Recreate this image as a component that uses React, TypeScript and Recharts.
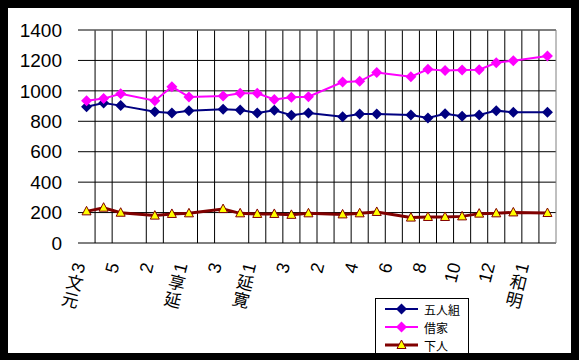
import { LineChart, Line, XAxis, YAxis, CartesianGrid, ReferenceLine, Legend } from 'recharts'

// 28 years, 元文3 (1738) .. 明和2 (1765)
const years = [
  '元文3', '元文4', '元文5', '寛保1', '寛保2', '寛保3', '延享1', '延享2', '延享3', '延享4',
  '寛延1', '寛延2', '寛延3', '宝暦1', '宝暦2', '宝暦3', '宝暦4', '宝暦5', '宝暦6', '宝暦7',
  '宝暦8', '宝暦9', '宝暦10', '宝暦11', '宝暦12', '宝暦13', '明和1', '明和2',
]
// shown under every second year
const tickLabels = ['元文3', '5', '2', '延享1', '3', '寛延1', '3', '2', '4', '6', '8', '10', '12', '明和1']

const gonin = [895, 920, 903, null, 863, 855, 870, null, 879, 874, 855, 872, 840, 854, null, 830, 848, 848, null, 841, 822, 850, 833, 841, 870, 859, null, 859]
const shakuya = [935, 949, 981, null, 935, 1027, 960, null, 966, 984, 984, 944, 958, 962, null, 1058, 1063, 1120, null, 1093, 1142, 1133, 1137, 1139, 1185, 1198, null, 1229]
const genin = [208, 232, 199, null, 180, 191, 195, null, 223, 195, 191, 191, 185, 195, null, 188, 195, 204, null, 167, 171, 171, 175, 193, 195, 201, null, 197]

const yTicks = [0, 200, 400, 600, 800, 1000, 1200, 1400]
// column boundaries that carry a grid line (3, 6 and 9 are absent in the original)
const gridTicks = [1, 2, 4, 5, 7, 8, 10, 11, 12, 13, 14, 15, 16, 17, 18, 19, 20, 21, 22, 23, 24, 25, 26, 27]
const labelTicks = tickLabels.map((_, k) => k * 2 + 0.5)
const colCount = years.length

const data = years.map((year, i) => ({
  year,
  pos: i + 0.5,
  gonin: gonin[i],
  shakuya: shakuya[i],
  genin: genin[i],
}))

const series = [
  { key: 'gonin', name: '五人組', color: '#000080', fill: '#000080', marker: 'diamond', width: 2 },
  { key: 'shakuya', name: '借家', color: '#ff00ff', fill: '#ff00ff', marker: 'diamond', width: 2 },
  { key: 'genin', name: '下人', color: '#800000', fill: '#ffff00', marker: 'triangle', width: 3 },
]

const latin = "'Liberation Sans', Arial, sans-serif"
const cjk = "'Noto Sans CJK JP', sans-serif"

function markerShape(kind: string, cx: number, cy: number, fill: string, stroke: string) {
  if (kind === 'diamond') {
    const r = 5.5
    return <polygon points={`${cx},${cy - r} ${cx + r},${cy} ${cx},${cy + r} ${cx - r},${cy}`} fill={fill} stroke="none" />
  }
  return (
    <polygon
      points={`${cx},${cy - 5} ${cx + 4.5},${cy + 3.5} ${cx - 4.5},${cy + 3.5}`}
      fill={fill}
      stroke={stroke}
      strokeWidth={1}
    />
  )
}

function makeDot(kind: string, fill: string, stroke: string) {
  return (p: any) => {
    if (p.cy == null || p.value == null) return <g key={p.index} />
    return <g key={p.index}>{markerShape(kind, p.cx, p.cy, fill, stroke)}</g>
  }
}

function EraTick(props: any) {
  const { x, y, payload } = props
  const label = tickLabels[Math.round((payload.value - 0.5) / 2)] ?? ''
  const ang = -76
  const ux = Math.cos((ang * Math.PI) / 180)
  const uy = Math.sin((ang * Math.PI) / 180)
  const ex = x - 7
  const ey = y + 20
  const chars = Array.from(label)
  const out = []
  let d = 0
  for (let k = chars.length - 1; k >= 0; k--) {
    const c = chars[k]
    const wide = /[^\x00-\x7f]/.test(c)
    const adv = wide ? 18 : 10
    const cx = ex - ux * (d + adv / 2)
    const cy = ey - uy * (d + adv / 2)
    d += adv
    out.push(
      <text
        key={k}
        x={cx}
        y={cy}
        textAnchor="middle"
        dominantBaseline="central"
        fontSize={wide ? 17 : 18}
        fontFamily={wide ? cjk : latin}
        fill="#000"
        transform={`rotate(${wide ? ang + 90 : ang} ${cx} ${cy})`}
      >
        {c}
      </text>
    )
  }
  return <g>{out}</g>
}

function LegendBox() {
  return (
    <div
      style={{
        border: '1px solid #000',
        background: '#fff',
        width: 94,
        height: 62,
        paddingTop: 1,
        boxSizing: 'border-box',
      }}
    >
      {series.map(s => (
        <div key={s.key} style={{ display: 'flex', alignItems: 'center', height: 18, paddingLeft: 9 }}>
          <svg width={34} height={18}>
            <line x1={0} x2={33} y1={9} y2={9} stroke={s.color} strokeWidth={s.width} />
            {markerShape(s.marker, 16.5, 9, s.fill, s.color)}
          </svg>
          <span
            style={{
              display: 'block',
              marginLeft: 5,
              fontSize: 12,
              fontFamily: cjk,
              color: '#000',
              lineHeight: '15px',
              height: 15,
            }}
          >
            {s.name}
          </span>
        </div>
      ))}
    </div>
  )
}

export default function App() {
  return (
    <div style={{ position: 'absolute', left: 0, top: 0, width: 579, height: 360, background: '#000' }}>
      <div
        style={{
          position: 'absolute',
          left: 8,
          top: 8,
          width: 563,
          height: 345,
          background: '#fff',
          overflow: 'hidden',
        }}
      >
        <LineChart width={563} height={345} data={data} margin={{ top: 22, right: 15, left: 0, bottom: 0 }}>
          <CartesianGrid
            xAxisId="grid"
            stroke="#000"
            strokeWidth={1}
            verticalCoordinatesGenerator={({ xAxis, offset }: any) =>
              gridTicks.map(t =>
                typeof xAxis?.scale === 'function' ? xAxis.scale(t) : offset.left + (t / colCount) * offset.width
              )
            }
          />
          <XAxis
            xAxisId="grid"
            type="number"
            dataKey="pos"
            domain={[0, colCount]}
            ticks={gridTicks}
            interval={0}
            tick={false}
            tickLine={false}
            axisLine={{ stroke: '#000' }}
            height={0}
            allowDataOverflow
          />
          <XAxis
            xAxisId="lbl"
            type="number"
            dataKey="pos"
            domain={[0, colCount]}
            ticks={labelTicks}
            interval={0}
            axisLine={false}
            tickLine={false}
            tickSize={0}
            tickMargin={0}
            height={110}
            tick={<EraTick />}
            allowDataOverflow
          />
          <YAxis
            domain={[0, 1400]}
            ticks={yTicks}
            interval={0}
            width={70}
            axisLine={false}
            tickLine={false}
            tickSize={0}
            tickMargin={16}
            tick={{ fontSize: 19, fill: '#000', fontFamily: latin }}
          />
          <ReferenceLine xAxisId="grid" y={1400} stroke="#808080" ifOverflow="visible" />
          <ReferenceLine xAxisId="grid" x={colCount} stroke="#808080" ifOverflow="visible" />
          {series.map(s => (
            <Line
              key={s.key}
              xAxisId="grid"
              dataKey={s.key}
              name={s.name}
              type="linear"
              stroke={s.color}
              strokeWidth={s.width}
              connectNulls
              dot={makeDot(s.marker, s.fill, s.color)}
              activeDot={false}
              legendType="none"
              isAnimationActive={false}
            />
          ))}
          <Legend
            layout="vertical"
            align="center"
            verticalAlign="middle"
            content={() => <LegendBox />}
            wrapperStyle={{ left: 367, top: 290, width: 94, height: 62 }}
          />
        </LineChart>
      </div>
    </div>
  )
}
